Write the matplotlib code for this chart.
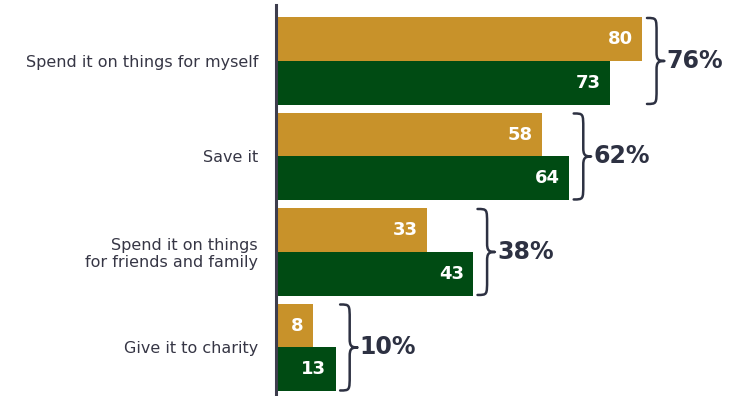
import matplotlib.pyplot as plt
from matplotlib.path import Path
from matplotlib.patches import PathPatch
import numpy as np

categories = ['Spend it on things for myself', 'Save it',
              'Spend it on things\nfor friends and family', 'Give it to charity']
gold_vals = [80, 58, 33, 8]
green_vals = [73, 64, 43, 13]
totals = ['76%', '62%', '38%', '10%']

GOLD = '#C8922A'
GREEN = '#004B13'
INK = '#2D3142'
LABEL = '#363645'

fig = plt.figure(figsize=(7.31, 3.96), dpi=100)
W, H = 731, 396
ax = fig.add_axes([276 / W, 0, 1 - 276 / W, 1 - 5 / H])

y = np.arange(len(categories))
bh = 0.46
ax.barh(y - bh / 2, gold_vals, height=bh, color=GOLD)
ax.barh(y + bh / 2, green_vals, height=bh, color=GREEN)

ax.set_xlim(0, (W - 276) / 4.58)
ax.set_ylim(3.508, -0.586)

for i in range(len(categories)):
    ax.text(gold_vals[i] - 2, y[i] - bh / 2, str(gold_vals[i]), ha='right', va='center',
            color='white', fontsize=13, fontweight='bold')
    ax.text(green_vals[i] - 2, y[i] + bh / 2, str(green_vals[i]), ha='right', va='center',
            color='white', fontsize=13, fontweight='bold')

    # curly brace to the right of each pair of bars
    x0 = max(gold_vals[i], green_vals[i]) + 1.0
    w = 3.8
    h = w * 0.55
    yt, yb, ym = y[i] - bh + 0.01, y[i] + bh - 0.01, y[i]
    r = 0.16
    rm = 0.09
    verts = [(x0, yt), (x0 + h, yt), (x0 + h, yt), (x0 + h, yt + r),
             (x0 + h, ym - rm),
             (x0 + h, ym - 0.02), (x0 + h + 0.3, ym), (x0 + w, ym),
             (x0 + h + 0.3, ym), (x0 + h, ym + 0.02), (x0 + h, ym + rm),
             (x0 + h, yb - r),
             (x0 + h, yb), (x0 + h, yb), (x0, yb)]
    codes = [Path.MOVETO, Path.CURVE4, Path.CURVE4, Path.CURVE4,
             Path.LINETO,
             Path.CURVE4, Path.CURVE4, Path.CURVE4,
             Path.CURVE4, Path.CURVE4, Path.CURVE4,
             Path.LINETO,
             Path.CURVE4, Path.CURVE4, Path.CURVE4]
    ax.add_patch(PathPatch(Path(verts, codes), fill=False, edgecolor=INK, lw=1.8,
                           capstyle='round', joinstyle='round', clip_on=False))
    ax.text(x0 + w + 0.5, ym, totals[i], ha='left', va='center', color=INK,
            fontsize=17, fontweight='bold', clip_on=False)

ax.set_yticks(y)
ax.set_yticklabels(categories, fontsize=11.5, color=LABEL, linespacing=1.15)
ax.tick_params(axis='y', length=0, pad=13)
ax.set_xticks([])
for s in ['top', 'right', 'bottom']:
    ax.spines[s].set_visible(False)
ax.spines['left'].set_color('#3D3D4D')
ax.spines['left'].set_linewidth(2.2)

fig.savefig('out.png', dpi=100)
